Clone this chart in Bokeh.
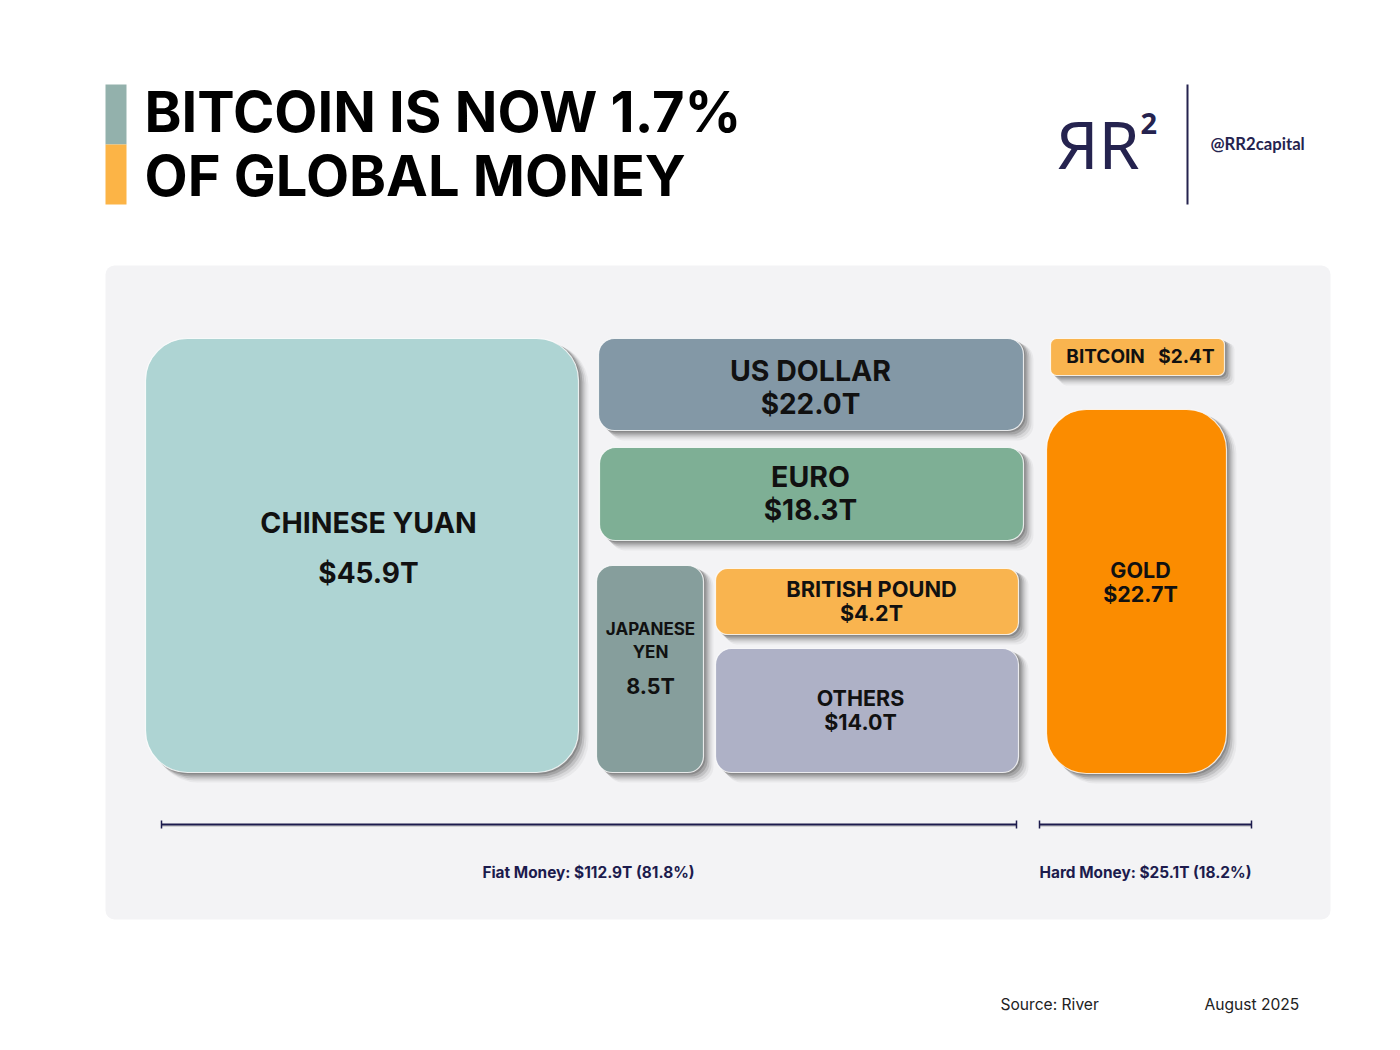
from bokeh.plotting import figure
from bokeh.models import Range1d, ColumnDataSource
from bokeh.core.properties import value
from bokeh.embed import file_html
from bokeh.resources import INLINE

# ---------------- data ----------------
categories = ["CHINESE YUAN", "US DOLLAR", "EURO", "JAPANESE YEN",
              "BRITISH POUND", "OTHERS", "BITCOIN", "GOLD"]
values_t = [45.9, 22.0, 18.3, 8.5, 4.2, 14.0, 2.4, 22.7]
groups = ["fiat", "fiat", "fiat", "fiat", "fiat", "fiat", "hard", "hard"]
value_prefix = ["$", "$", "$", "", "$", "$", "$", "$"]
colors = ["#aed4d3", "#8398a6", "#7eaf95", "#869e9c",
          "#f9b44f", "#aeb1c6", "#f9b44f", "#fb8c00"]

fiat_total = sum(v for v, g in zip(values_t, groups) if g == "fiat")
hard_total = sum(v for v, g in zip(values_t, groups) if g == "hard")
grand_total = fiat_total + hard_total
btc_share = values_t[categories.index("BITCOIN")] / grand_total * 100

# ---------------- layout (canvas pixels) ----------------
# left, right, top, bottom, radius
boxes = {
    "CHINESE YUAN": (145, 578, 338, 772, 42),
    "US DOLLAR": (598, 1023, 338, 430, 16),
    "EURO": (599, 1023, 447, 540, 16),
    "JAPANESE YEN": (596, 703, 565, 772, 16),
    "BRITISH POUND": (715, 1018, 568, 634, 12),
    "OTHERS": (715, 1018, 648, 772, 16),
    "BITCOIN": (1050, 1224, 338, 375, 6),
    "GOLD": (1046, 1226, 409, 773, 40),
}
# label lines: (x, [(line_center_y, size)...], value_center_y, value_size)
label_pos = {
    "CHINESE YUAN": (368, [(523.5, 28.5)], 574, 28),
    "US DOLLAR": (810, [(371, 28.5)], 404.5, 28),
    "EURO": (810, [(477, 28.5)], 510.5, 28),
    "JAPANESE YEN": (650, [(629, 17), (652, 17)], 686, 21.5),
    "BRITISH POUND": (871, [(589, 21.8)], 613, 21.5),
    "OTHERS": (860, [(698, 21.5)], 722, 21.5),
    "GOLD": (1140, [(570, 21.5)], 594, 21.5),
}

NAVY = "#1c1b4d"


def cy(center, s):
    # y to hand to the text glyph so that the capitals are centred on `center`
    return center - 0.04 * s


def by_(base, s):
    # y to hand to the text glyph so that the baseline sits on `base`
    return base - 0.4 * s


p = figure(width=1384, height=1034, x_range=Range1d(0, 1384), y_range=Range1d(1034, 0),
           output_backend="svg", toolbar_location=None, min_border=0,
           x_axis_type=None, y_axis_type=None)
p.grid.visible = False
p.outline_line_color = None
p.background_fill_color = "white"
p.border_fill_color = "white"

# panel
p.quad(left=[105], right=[1330], top=[265], bottom=[919], fill_color="#f3f3f5",
       line_color=None, border_radius=9)

# title color bar
p.quad(left=[105, 105], right=[126, 126], top=[84, 144], bottom=[144, 204],
       fill_color=["#93b1ac", "#fcb446"], line_color=None)

# shadows + boxes (one glyph per box: border_radius is a scalar)
for c, col in zip(categories, colors):
    l, r, t, b, rad = boxes[c]
    for d, a in [(10, 0.06), (8, 0.10), (6, 0.16), (4, 0.24), (2, 0.3)]:
        p.quad(left=[l + d], right=[r + d], top=[t + d * 0.5], bottom=[b + d],
               fill_color="#4a4a4a", fill_alpha=a, line_color=None, border_radius=rad)
for c, col in zip(categories, colors):
    l, r, t, b, rad = boxes[c]
    p.quad(left=[l], right=[r], top=[t], bottom=[b], fill_color=col,
           line_color="white", line_width=1.2, line_alpha=0.8, border_radius=rad)

# box labels
tx, ty, tt, ts = [], [], [], []
for c, v, pre in zip(categories, values_t, value_prefix):
    if c not in label_pos:
        continue
    x, lines, vy, vs = label_pos[c]
    words = c.split(" ") if c == "JAPANESE YEN" else [c]
    for w, (ly, sz) in zip(words, lines):
        tx.append(x); ty.append(cy(ly, sz)); tt.append(w); ts.append(f"{sz}px")
    tx.append(x); ty.append(cy(vy, vs)); tt.append(f"{pre}{v:.1f}T"); ts.append(f"{vs}px")
# bitcoin single-line label
bi = categories.index("BITCOIN")
tx.append(1140); ty.append(cy(357, 19))
tt.append(f"BITCOIN\u00a0\u00a0 {value_prefix[bi]}{values_t[bi]:.1f}T"); ts.append("19px")

p.text(x="x", y="y", text="t", text_font_size="s",
       source=ColumnDataSource(dict(x=tx, y=ty, t=tt, s=ts)),
       text_font=value("Inter"), text_font_style="bold", text_color="#111111",
       text_align="center", text_baseline="alphabetic")

# title
p.text(x=[144, 144], y=[by_(133.5, 56), by_(197.5, 56)],
       text=[f"BITCOIN IS NOW {btc_share:.1f}%", "OF GLOBAL MONEY"],
       text_font=value("Inter"), text_font_style="bold", text_font_size=value("56px"),
       text_color="#000000", text_align="left", text_baseline="alphabetic")

# logo
p.text(x=[1056], y=[by_(169, 66)], text=["ЯR"], text_font=value("Noto Sans"),
       text_font_size=value("66px"), text_color="#25234f",
       text_align="left", text_baseline="alphabetic")
p.text(x=[1140], y=[by_(135, 29)], text=["2"], text_font=value("Noto Sans"),
       text_font_style="bold", text_font_size=value("29px"), text_color="#25234f",
       text_align="left", text_baseline="alphabetic")
p.segment(x0=[1187], x1=[1187], y0=[84], y1=[204], line_color="#25234f", line_width=2)
p.text(x=[1210], y=[by_(150, 16.7)], text=["@RR2capital"], text_font=value("Lato"),
       text_font_style="bold", text_font_size=value("16.7px"), text_color="#25234f",
       text_align="left", text_baseline="alphabetic")

# brackets
bx0 = [161, 1039]
bx1 = [1016, 1251]
byy = 824
p.segment(x0=bx0, x1=bx1, y0=[byy + 1.5] * 2, y1=[byy + 1.5] * 2, line_color="#aaaaaa",
          line_width=1.5, line_alpha=0.6)
p.segment(x0=bx0, x1=bx1, y0=[byy] * 2, y1=[byy] * 2, line_color=NAVY, line_width=2)
p.segment(x0=bx0 + bx1, x1=bx0 + bx1, y0=[byy - 4] * 4, y1=[byy + 4] * 4,
          line_color=NAVY, line_width=1.5)

p.text(x=[588, 1145], y=[cy(872.5, 15.4)] * 2,
       text=[f"Fiat Money: ${fiat_total:.1f}T ({fiat_total / grand_total * 100:.1f}%)",
             f"Hard Money: ${hard_total:.1f}T ({hard_total / grand_total * 100:.1f}%)"],
       text_font=value("Inter"), text_font_style="bold", text_font_size=value("15.4px"),
       text_color=NAVY, text_align="center", text_baseline="alphabetic")

# footer
p.text(x=[1000, 1204], y=[cy(1005, 15.6)] * 2, text=["Source: River", "August 2025"],
       text_font=value("Inter"), text_font_size=value("15.6px"), text_color="#222222",
       text_align="left", text_baseline="alphabetic")

open("out.html", "w").write(file_html(p, INLINE))
